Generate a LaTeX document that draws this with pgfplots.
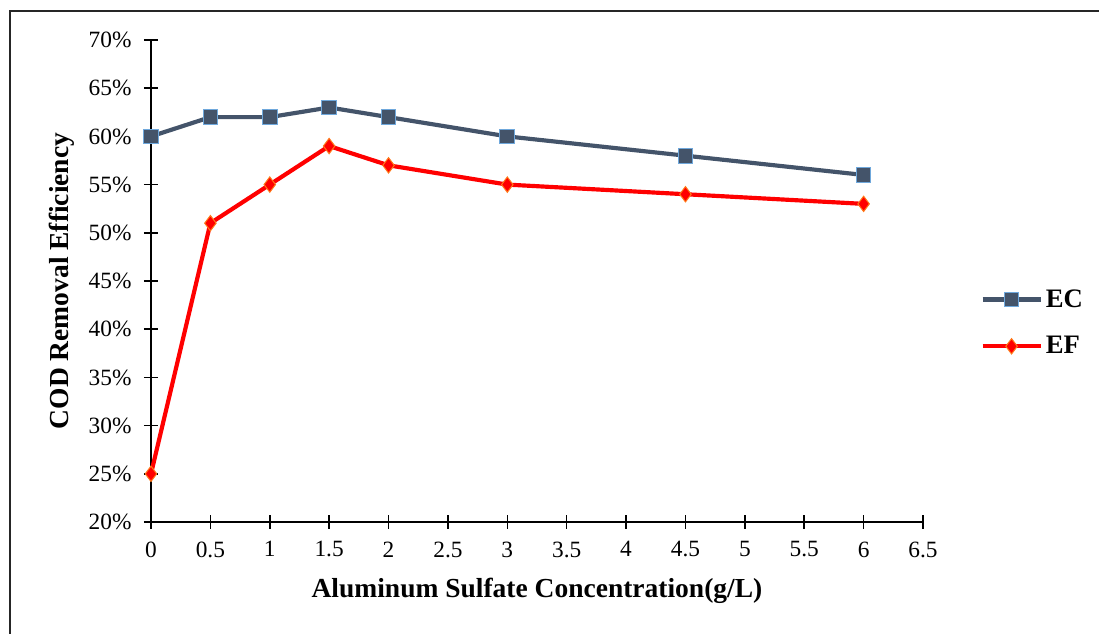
\documentclass[border=0pt]{standalone}
\usepackage{fontspec}
\setmainfont{Liberation Serif}
\usepackage{pgfplots}
\pgfplotsset{compat=1.18}

\definecolor{ecline}{HTML}{44546A}
\definecolor{ecedge}{HTML}{6FA8DC}
\definecolor{efline}{HTML}{FF0000}
\definecolor{efedge}{HTML}{FF7A1A}

\begin{document}
\begin{tikzpicture}
  \useasboundingbox (0,0) rectangle (659.4pt,380.4pt);
  % outer frame (left and top edges)
  \draw[line width=1.2pt,black!85] (6pt,-3pt) -- (6pt,373.8pt) -- (663pt,373.8pt);
  \begin{axis}[
    at={(90.6pt,67.2pt)}, anchor=south west,
    scale only axis,
    width=463.2pt, height=289.2pt,
    xmin=0, xmax=6.5, ymin=20, ymax=70,
    xtick={0,0.5,...,6.5},
    ytick={20,25,...,70},
    axis lines=left,
    axis line style={-, line width=0.9pt, black},
    major tick style={line width=0.9pt, black},
    major tick length=8.4pt,
    tick align=center,
    clip=false,
    /pgf/number format/assume math mode=true,
    yticklabel={\pgfmathprintnumber{\tick}\%},
    ticklabel style={font=\fontsize{14}{16}\selectfont},
    xticklabel style={yshift=-4pt},
    yticklabel style={xshift=-4pt},
    xlabel={\textbf{Aluminum Sulfate Concentration(g/L)}},
    ylabel={\textbf{COD Removal Efficiency}},
    label style={font=\fontsize{16.5}{18}\selectfont},
    xlabel style={at={(axis description cs:0.5,-0.143)}, anchor=center},
    ylabel style={at={(axis description cs:-0.115,0.5)}, anchor=center},
    legend style={at={(1.074,0.49)}, anchor=north west, draw=none, fill=none,
      font=\fontsize{16}{18}\selectfont\bfseries, row sep=12pt,
      inner sep=0pt, nodes={inner sep=2pt}},
    legend cell align=left,
    legend image code/.code={
      \draw[mark repeat=2,mark phase=2,#1] plot coordinates {(0pt,0pt)(17.4pt,0pt)(34.8pt,0pt)};
    },
  ]
    \addplot[ecline, line width=2.5pt, mark=square*,
      mark size=4.4pt, mark options={fill=ecline, draw=ecedge, line width=0.6pt}]
      coordinates {(0,60) (0.5,62) (1,62) (1.5,63) (2,62) (3,60) (4.5,58) (6,56)};
    \addlegendentry{EC}
    \addplot[efline, line width=2.5pt, mark=diamond*,
      mark size=4.6pt, mark options={fill=efline, draw=efedge, line width=0.6pt}]
      coordinates {(0,25) (0.5,51) (1,55) (1.5,59) (2,57) (3,55) (4.5,54) (6,53)};
    \addlegendentry{EF}
  \end{axis}
\end{tikzpicture}
\end{document}
